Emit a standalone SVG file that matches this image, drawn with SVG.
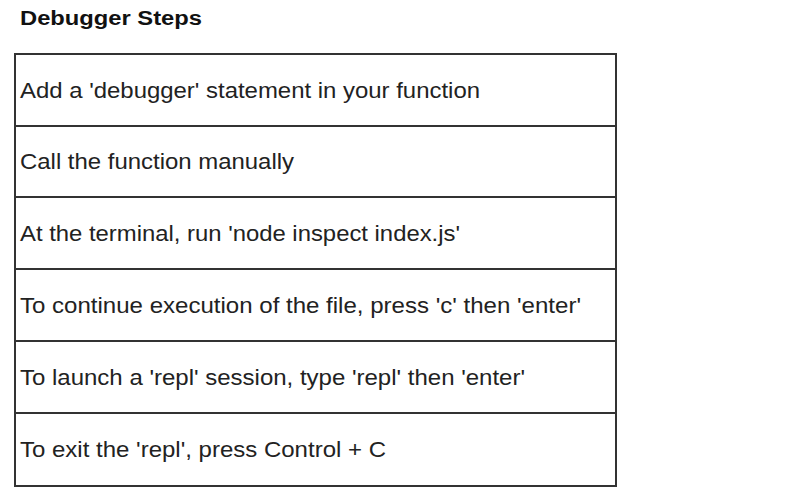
<svg xmlns="http://www.w3.org/2000/svg" width="805" height="504" viewBox="0 0 805 504">
<style>
.t{font-family:"Liberation Sans",Arial,sans-serif;font-size:22px;fill:#222}
.h{font-family:"Liberation Sans",Arial,sans-serif;font-size:20px;font-weight:bold;fill:#111}
.b{fill:#fff;stroke:#333;stroke-width:2}
</style>
<rect width="805" height="504" fill="#fff"/>
<text class="h" x="20" y="25" textLength="182" lengthAdjust="spacingAndGlyphs">Debugger Steps</text>
<g id="step1"><rect class="b" x="15" y="54" width="601" height="72"/><text class="t" x="20" y="98" textLength="460" lengthAdjust="spacingAndGlyphs">Add a 'debugger' statement in your function</text></g>
<g id="step2"><rect class="b" x="15" y="126" width="601" height="71"/><text class="t" x="20" y="169" textLength="274" lengthAdjust="spacingAndGlyphs">Call the function manually</text></g>
<g id="step3"><rect class="b" x="15" y="197" width="601" height="72"/><text class="t" x="20" y="241" textLength="440" lengthAdjust="spacingAndGlyphs">At the terminal, run 'node inspect index.js'</text></g>
<g id="step4"><rect class="b" x="15" y="269" width="601" height="72"/><text class="t" x="20" y="313" textLength="561" lengthAdjust="spacingAndGlyphs">To continue execution of the file, press 'c' then 'enter'</text></g>
<g id="step5"><rect class="b" x="15" y="341" width="601" height="72"/><text class="t" x="20" y="385" textLength="505" lengthAdjust="spacingAndGlyphs">To launch a 'repl' session, type 'repl' then 'enter'</text></g>
<g id="step6"><rect class="b" x="15" y="413" width="601" height="73"/><text class="t" x="20" y="457" textLength="366" lengthAdjust="spacingAndGlyphs">To exit the 'repl', press Control + C</text></g>
<g id="connectors"></g>
</svg>
